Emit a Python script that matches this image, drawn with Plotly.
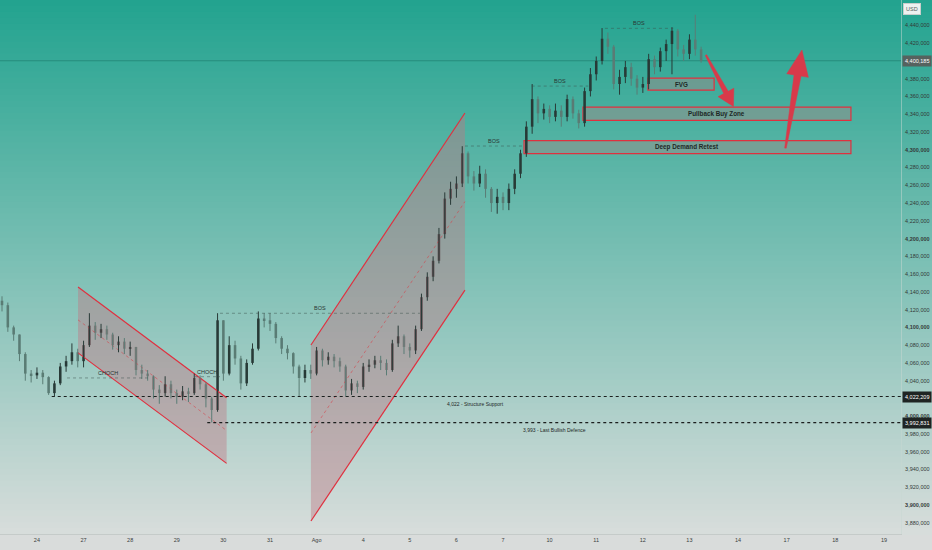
import plotly.graph_objects as go

# ---------------- data ----------------
day_labels = ["24", "27", "28", "29", "30", "31", "Ago", "4", "5", "6", "7",
              "10", "11", "12", "13", "14", "17", "18", "19"]
completed_sessions = 15          # 24 .. 13 are sessions already traded
future_session_len = 24 / 23     # future sessions have one hour more
bar_start = -0.749               # first bar, in session units
bar_step = 0.125                 # 3-hour bars

first_open = 4130.0
close = [4125, 4100, 4092, 4070, 4048, 4046, 4049, 4044, 4026, 4037,
         4056, 4062, 4072, 4062, 4080, 4102, 4094, 4098, 4092, 4080,
         4084, 4076, 4078, 4052, 4048, 4045, 4030, 4026, 4036, 4026,
         4022, 4028, 4026, 4043, 4036, 4020, 4007, 4108, 4048, 4080,
         4065, 4037, 4060, 4076, 4110, 4108, 4104, 4088, 4076, 4071,
         4056, 4043, 4052, 4048, 4074, 4063, 4067, 4062, 4056, 4029,
         4037, 4033, 4056, 4058, 4063, 4060, 4052, 4082, 4090, 4078,
         4074, 4098, 4134, 4157, 4175, 4205, 4245, 4256, 4262, 4296,
         4270, 4262, 4273, 4256, 4240, 4247, 4240, 4256, 4273, 4296,
         4326, 4357, 4341, 4346, 4337, 4344, 4337, 4357, 4341, 4330,
         4366, 4385, 4400, 4425, 4416, 4374, 4382, 4393, 4380, 4370,
         4374, 4402, 4393, 4411, 4419, 4434, 4413, 4408, 4424, 4413,
         4400.185]
high = [4135, 4128, 4102, 4092, 4072, 4052, 4055, 4052, 4045, 4040,
        4060, 4068, 4082, 4076, 4085, 4116, 4106, 4104, 4102, 4094,
        4090, 4088, 4084, 4078, 4058, 4052, 4046, 4035, 4045, 4040,
        4030, 4034, 4032, 4048, 4046, 4038, 4022, 4116, 4108, 4090,
        4085, 4068, 4064, 4082, 4118, 4116, 4116, 4106, 4090, 4080,
        4072, 4058, 4058, 4058, 4078, 4076, 4072, 4070, 4066, 4058,
        4042, 4040, 4060, 4064, 4068, 4068, 4064, 4086, 4102, 4092,
        4082, 4102, 4138, 4162, 4180, 4212, 4252, 4264, 4270, 4304,
        4298, 4276, 4282, 4278, 4258, 4256, 4252, 4262, 4278, 4300,
        4332, 4374, 4360, 4352, 4350, 4352, 4350, 4362, 4360, 4345,
        4370, 4392, 4405, 4437, 4432, 4418, 4390, 4400, 4398, 4384,
        4382, 4408, 4406, 4415, 4424, 4438, 4436, 4418, 4430, 4452,
        4416]
low = [4118, 4095, 4085, 4062, 4040, 4038, 4042, 4036, 4024, 4022,
       4035, 4050, 4058, 4055, 4055, 4078, 4086, 4088, 4086, 4075,
       4072, 4070, 4068, 4046, 4042, 4040, 4020, 4014, 4022, 4020,
       4014, 4018, 4016, 4024, 4030, 4010, 3993, 4005, 4040, 4046,
       4058, 4030, 4034, 4058, 4074, 4100, 4096, 4082, 4070, 4064,
       4048, 4022, 4038, 4042, 4046, 4056, 4058, 4055, 4050, 4022,
       4024, 4026, 4030, 4050, 4054, 4052, 4046, 4050, 4078, 4070,
       4066, 4070, 4096, 4130, 4152, 4172, 4200, 4238, 4246, 4258,
       4262, 4254, 4258, 4246, 4230, 4228, 4232, 4232, 4250, 4268,
       4292, 4318, 4330, 4334, 4330, 4332, 4326, 4332, 4335, 4324,
       4326, 4360, 4378, 4396, 4408, 4368, 4362, 4375, 4372, 4362,
       4364, 4368, 4385, 4388, 4400, 4385, 4405, 4400, 4402, 4406,
       4398]

y_tick_values = [4440, 4420, 4380, 4360, 4340, 4320, 4300, 4280, 4260, 4240,
                 4220, 4200, 4180, 4160, 4140, 4120, 4100, 4080, 4060, 4040,
                 4000, 3980, 3960, 3940, 3920, 3900, 3880]
y_tick_labels = ["4,440,000", "4,420,000", "4,380,000", "4,360,000", "4,340,000",
                 "4,320,000", "<b>4,300,000</b>", "4,280,000", "4,260,000", "4,240,000",
                 "4,220,000", "<b>4,200,000</b>", "4,180,000", "4,160,000", "4,140,000",
                 "4,120,000", "<b>4,100,000</b>", "4,080,000", "4,060,000", "4,040,000",
                 "<b>4,000,000</b>", "3,980,000", "3,960,000", "3,940,000", "3,920,000",
                 "<b>3,900,000</b>", "3,880,000"]

last_price = 4400.185
last_price_label = "4,400,185"
support_level = 4022.209
support_label_box = "4,022,209"
support_start = 0.318
support_text = "4,022 - Structure Support"
support_text_x = 9.42
defence_level = 3992.831
defence_label_box = "3,992,831"
defence_start = 3.655
defence_text = "3,993 - Last Bullish Defence"
defence_text_x = 11.11

chan1_x = [0.882, 4.07]
chan1_upper = [4145.6, 4020.9]
chan1_lower = [4071.3, 3946.9]
chan2_x = [5.88, 9.184]
chan2_upper = [4080.2, 4341.4]
chan2_lower = [3882.0, 4142.0]

structure_names = ["CHOCH", "CHOCH", "BOS", "BOS", "BOS", "BOS"]
structure_x0 = [0.646, 3.392, 3.928, 9.184, 10.616, 12.188]
structure_x1 = [2.383, 3.928, 8.219, 10.428, 11.83, 13.654]
structure_level = [4043.1, 4044.5, 4115.9, 4304.2, 4371.7, 4436.7]

zone_names = ["FVG", "Pullback Buy Zone", "Deep Demand Retest"]
zone_x0 = [13.11, 11.716, 10.451]
zone_x1 = [14.53, 17.466, 17.466]
zone_top = [4380.7, 4348.0, 4310.2]
zone_bottom = [4367.2, 4333.0, 4295.6]

arrow_down_x = [14.370, 14.832, 14.954, 14.945, 14.615, 14.737, 14.340]
arrow_down_y = [4407.1, 4365.9, 4369.3, 4348.7, 4359.8, 4363.2, 4406.2]
arrow_up_x = [16.044, 16.245, 16.089, 16.415, 16.552, 16.396, 16.078]
arrow_up_y = [4301.9, 4384.1, 4385.6, 4412.3, 4381.5, 4382.9, 4301.8]

x_range = [-0.792, 18.54]
y_range = [3867.4, 4468.6]

# ---------------- styles ----------------
FONT = "Liberation Sans"
UP = "#283a37"
DOWN = "#5a7c75"
RED = "#e0303f"
ARROW_RED = "#d83a4a"
TOP_RGB = (34, 163, 143)
BOT_RGB = (216, 221, 219)

fig = go.Figure()

# background gradient
bands = 90
shapes = []
for k in range(bands):
    t = (k + 0.5) / bands
    c = tuple(int(round(TOP_RGB[j] + (BOT_RGB[j] - TOP_RGB[j]) * t)) for j in range(3))
    shapes.append(dict(type="rect", xref="paper", yref="paper",
                       x0=0, x1=932 / 901, y0=1 - (k + 1) / bands - 0.002, y1=1 - k / bands,
                       fillcolor="rgb(%d,%d,%d)" % c, line=dict(width=0), layer="below"))

# current price line
shapes.append(dict(type="line", xref="paper", yref="y", x0=0, x1=1,
                   y0=last_price, y1=last_price,
                   line=dict(color="rgba(20,100,88,0.45)", width=1), layer="below"))

# zones
for i in range(len(zone_names)):
    shapes.append(dict(type="rect", xref="x", yref="y",
                       x0=zone_x0[i], x1=zone_x1[i], y0=zone_bottom[i], y1=zone_top[i],
                       fillcolor="rgba(145,143,138,0.55)",
                       line=dict(color=RED, width=1.2), layer="below"))

# structure (CHOCH / BOS) lines
for i in range(len(structure_names)):
    shapes.append(dict(type="line", xref="x", yref="y",
                       x0=structure_x0[i], x1=structure_x1[i],
                       y0=structure_level[i], y1=structure_level[i],
                       line=dict(color="rgba(60,80,76,0.6)", width=0.8, dash="dot")))

# support / defence dotted lines
shapes.append(dict(type="line", xref="x", yref="y", x0=support_start, x1=x_range[1],
                   y0=support_level, y1=support_level,
                   line=dict(color="#1b1f1e", width=1.2, dash="dot")))
shapes.append(dict(type="line", xref="x", yref="y", x0=defence_start, x1=x_range[1],
                   y0=defence_level, y1=defence_level,
                   line=dict(color="#1b1f1e", width=1.2, dash="dot")))

# channels (shading)
for cx, cu, cl in [(chan1_x, chan1_upper, chan1_lower), (chan2_x, chan2_upper, chan2_lower)]:
    fig.add_trace(go.Scatter(x=[cx[0], cx[1], cx[1], cx[0], cx[0]],
                             y=[cu[0], cu[1], cl[1], cl[0], cu[0]],
                             mode="lines", fill="toself",
                             fillcolor="rgba(190,120,130,0.42)",
                             line=dict(width=0), hoverinfo="skip"))
    for edge in (cu, cl):
        fig.add_trace(go.Scatter(x=cx, y=edge, mode="lines",
                                 line=dict(color=RED, width=1.2), hoverinfo="skip"))
    fig.add_trace(go.Scatter(x=cx, y=[(cu[0] + cl[0]) / 2, (cu[1] + cl[1]) / 2],
                             mode="lines",
                             line=dict(color="rgba(215,60,70,0.55)", width=1, dash="dot"),
                             hoverinfo="skip"))

# candles
xs = [bar_start + i * bar_step for i in range(len(close))]
opens = [first_open] + close[:-1]
base, height, colors = [], [], []
wx = {UP: [], DOWN: []}
wy = {UP: [], DOWN: []}
for i in range(len(close)):
    o, c = opens[i], close[i]
    col = UP if c >= o else DOWN
    base.append(min(o, c))
    height.append(max(abs(c - o), 0.7))
    colors.append(col)
    wx[col] += [xs[i], xs[i], None]
    wy[col] += [low[i], high[i], None]
for col in (UP, DOWN):
    fig.add_trace(go.Scatter(x=wx[col], y=wy[col], mode="lines",
                             line=dict(color=col, width=1), hoverinfo="skip"))
fig.add_trace(go.Bar(x=xs, y=height, base=base, width=0.055,
                     marker=dict(color=colors, line=dict(width=0)), hoverinfo="skip"))

# arrows
for ax_, ay_ in [(arrow_down_x, arrow_down_y), (arrow_up_x, arrow_up_y)]:
    fig.add_trace(go.Scatter(x=ax_ + [ax_[0]], y=ay_ + [ay_[0]], mode="lines",
                             fill="toself", fillcolor=ARROW_RED,
                             line=dict(color=ARROW_RED, width=0.5), hoverinfo="skip"))

# annotations
ann = []
for i in range(len(structure_names)):
    ann.append(dict(x=(structure_x0[i] + structure_x1[i]) / 2, y=structure_level[i],
                    xref="x", yref="y", text=structure_names[i], showarrow=False,
                    yanchor="bottom", yshift=0,
                    font=dict(family=FONT, size=5.5, color="#2a3633")))
for i in range(len(zone_names)):
    ann.append(dict(x=(zone_x0[i] + zone_x1[i]) / 2, y=(zone_top[i] + zone_bottom[i]) / 2,
                    xref="x", yref="y", text="<b>%s</b>" % zone_names[i], showarrow=False,
                    font=dict(family=FONT, size=6.3, color="#1e2826")))
ann.append(dict(x=support_text_x, y=support_level, xref="x", yref="y", text=support_text,
                showarrow=False, yanchor="top", yshift=-2,
                font=dict(family=FONT, size=5, color="#1e2826")))
ann.append(dict(x=defence_text_x, y=defence_level, xref="x", yref="y", text=defence_text,
                showarrow=False, yanchor="top", yshift=-2,
                font=dict(family=FONT, size=5, color="#1e2826")))
# right-axis price boxes
for lvl, txt, bg in [(last_price, last_price_label, "#56625f"),
                     (support_level, support_label_box, "#1f2423"),
                     (defence_level, defence_label_box, "#1f2423")]:
    ann.append(dict(x=1, y=lvl, xref="paper", yref="y", text=txt, showarrow=False,
                    xanchor="left", xshift=1, bgcolor=bg, borderpad=2,
                    font=dict(family=FONT, size=5.5, color="#ffffff")))
ann.append(dict(x=1, y=1, xref="paper", yref="paper", text="USD", showarrow=False,
                xanchor="left", yanchor="top", xshift=2, yshift=-3,
                bgcolor="#eef1f0", bordercolor="#c9cecc", borderwidth=1, borderpad=2,
                font=dict(family=FONT, size=5.5, color="#555c5a")))

x_tick_values = list(range(completed_sessions)) + \
    [completed_sessions - 1 + n * future_session_len
     for n in range(1, len(day_labels) - completed_sessions + 1)]

fig.update_layout(
    width=932, height=550,
    margin=dict(l=0, r=31, t=0, b=16),
    paper_bgcolor="#d9dcdb", plot_bgcolor="rgba(0,0,0,0)",
    showlegend=False, hovermode=False, barmode="overlay",
    shapes=shapes, annotations=ann,
    xaxis=dict(range=x_range, tickmode="array", tickvals=x_tick_values,
               ticktext=day_labels, showgrid=False, zeroline=False, ticks="",
               showline=True, linecolor="#c5cbc9", linewidth=1,
               tickfont=dict(family=FONT, size=5.5, color="#3a3f3e")),
    yaxis=dict(range=y_range, side="right", tickmode="array", tickvals=y_tick_values,
               ticktext=y_tick_labels, showgrid=False, zeroline=False, ticks="",
               ticklabelstandoff=2,
               showline=True, linecolor="rgba(200,215,210,0.5)", linewidth=1,
               tickfont=dict(family=FONT, size=5.5, color="#333837")),
)

fig.write_html(
    "out.html",
    config={"displayModeBar": False},
    post_script="document.body.style.margin='0';document.body.style.padding='0';"
                "document.body.style.overflow='hidden';",
)
